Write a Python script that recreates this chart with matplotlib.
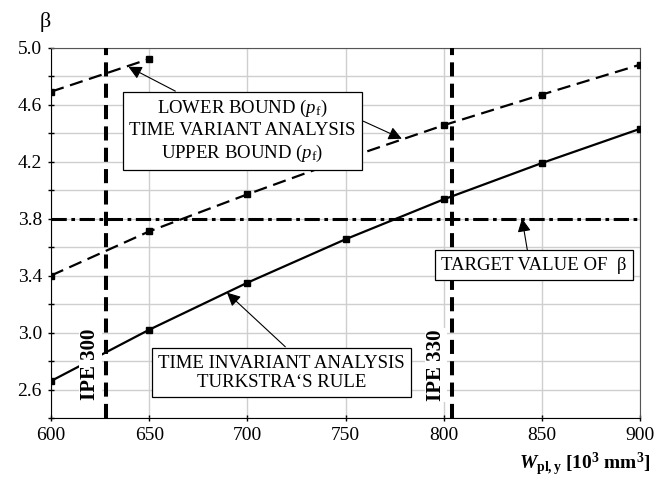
import matplotlib
matplotlib.use("Agg")
import matplotlib.pyplot as plt
import numpy as np

plt.rcParams['font.family'] = ['Liberation Serif', 'DejaVu Serif']
plt.rcParams['mathtext.fontset'] = 'custom'
plt.rcParams['mathtext.rm'] = 'Liberation Serif'
plt.rcParams['mathtext.it'] = 'Liberation Serif:italic'
plt.rcParams['mathtext.bf'] = 'Liberation Serif:bold'
plt.rcParams['mathtext.bfit'] = 'Liberation Serif:italic:bold'

# section modulus W_pl,y [10^3 mm^3]
w = [600, 650, 700, 750, 800, 850, 900]
# time invariant analysis (Turkstra's rule)
beta_invariant = [2.66, 3.02, 3.35, 3.655, 3.935, 4.19, 4.43]
# time variant analysis, bound from upper p_f
beta_variant_upper = [3.40, 3.71, 3.97, 4.22, 4.455, 4.67, 4.88]
# time variant analysis, bound from lower p_f (only two points)
w_lower = [600, 650]
beta_variant_lower = [4.69, 4.92]

beta_target = 3.8
ipe_names = ["IPE 300", "IPE 330"]
ipe_w = [628, 804]

fig = plt.figure(figsize=(6.54, 4.8), dpi=100)
ax = fig.add_axes([0.078, 0.129, 0.901, 0.772])

ax.set_xlim(600, 900)
ax.set_ylim(2.4, 5.0)

yt = np.round(np.arange(2.4, 5.01, 0.2), 1)
ax.set_yticks(yt)
ax.set_yticklabels([f"{v:.1f}" if i % 2 == 1 else "" for i, v in enumerate(yt)])
ax.set_xticks(w)
ax.tick_params(labelsize=14, direction='inout', length=5, width=1, pad=4)
ax.grid(True, color='#cfcfcf', lw=1.0, zorder=0)
ax.set_axisbelow(True)
for s in ['top', 'right']:
    ax.spines[s].set_color('#555555')
for s in ['left', 'bottom']:
    ax.spines[s].set_color('black')

# curves
ax.plot(w, beta_invariant, color='black', lw=1.6, marker='s', ms=4, zorder=3)
ax.plot(w, beta_variant_upper, color='black', lw=1.6, dashes=(6, 3),
        marker='s', ms=4, zorder=3)
ax.plot(w_lower, beta_variant_lower, color='black', lw=1.6, dashes=(6, 3),
        marker='s', ms=4, zorder=3)

# target reliability
ax.axhline(beta_target, color='black', lw=2.2, dashes=(5, 1.5, 1.2, 1.5), zorder=3)

# section limits
for name, xv in zip(ipe_names, ipe_w):
    ax.axvline(xv, color='black', lw=2.9, dashes=(3.5, 1.8), zorder=4)
    ax.text(xv - 8, 2.774, name, rotation=90, ha='center', va='center',
            fontsize=15, fontweight='bold', zorder=5,
            bbox=dict(facecolor='white', edgecolor='none', pad=1))

box = dict(boxstyle='square,pad=0.33', facecolor='white', edgecolor='black', lw=0.9)
arrow = dict(arrowstyle='-|>', color='black', lw=0.8, mutation_scale=20,
             shrinkA=0, shrinkB=0)

ax.text(697.3, 4.414,
        "LOWER BOUND ($p_{\\rm f}$)\nTIME VARIANT ANALYSIS\nUPPER BOUND ($p_{\\rm f}$)",
        ha='center', va='center', fontsize=13.5, linespacing=1.25,
        bbox=box, zorder=6)
ax.annotate("", xy=(639.4, 4.865), xytext=(663.3, 4.694), arrowprops=arrow, zorder=6)
ax.annotate("", xy=(778.6, 4.36), xytext=(759, 4.483), arrowprops=arrow, zorder=6)

ax.text(845.9, 3.474, "TARGET VALUE OF  β", ha='center', va='center',
        fontsize=13.5, bbox=box, zorder=6)
ax.annotate("", xy=(839.8, 3.80), xytext=(842.5, 3.579), arrowprops=arrow, zorder=6)

ax.text(717.4, 2.717, "TIME INVARIANT ANALYSIS\nTURKSTRA‘S RULE",
        ha='center', va='center', fontsize=13.5, linespacing=1.2,
        bbox=box, zorder=6)
ax.annotate("", xy=(689.6, 3.28), xytext=(719.3, 2.90), arrowprops=arrow, zorder=6)

# axis titles
ax.text(-0.01, 1.07, "β", transform=ax.transAxes, fontsize=16,
        ha='center', va='center')
ax.text(1.017, -0.125,
        r"$\mathbfit{W}_{\mathbf{pl,y}}$ [10$^{\mathbf{3}}$ mm$^{\mathbf{3}}$]",
        transform=ax.transAxes, fontsize=14, fontweight='bold',
        ha='right', va='center')

fig.savefig("out.png", dpi=100)
